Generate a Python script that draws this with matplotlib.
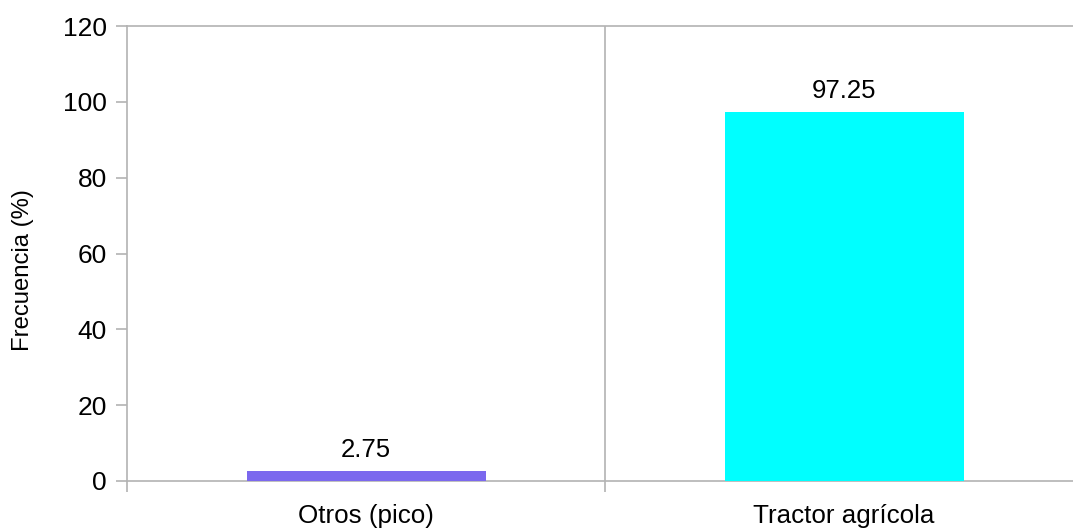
import matplotlib
matplotlib.use("Agg")
import matplotlib.pyplot as plt

# Data
categories = ["Otros (pico)", "Tractor agrícola"]
values = [2.75, 97.25]
bar_colors = ["#7b68ee", "#00ffff"]
y_ticks = [0, 20, 40, 60, 80, 100, 120]

plt.rcParams["font.family"] = ["Liberation Sans", "DejaVu Sans"]
grid_c = "#b3b3b3"

W, H = 1073, 528
fig = plt.figure(figsize=(W / 100, H / 100), dpi=100)
left, right, top, bottom = 127, 1083, 26, 481
ax = fig.add_axes([left / W, 1 - bottom / H, (right - left) / W, (bottom - top) / H])

x = list(range(len(categories)))
ax.bar(x, values, width=0.5, color=bar_colors, zorder=3)

for xi, v in zip(x, values):
    ax.annotate(f"{v:.2f}", (xi, v), xytext=(0, 10), textcoords="offset points",
                ha="center", va="baseline", fontsize=18.5, color="black")

ax.set_xlim(-0.5, len(categories) - 0.5)
ax.set_ylim(0, 120)

# category separators
for b in [i + 0.5 for i in range(len(categories) - 1)]:
    ax.axvline(b, color=grid_c, lw=1.2, zorder=1)

ax.set_xticks(x)
ax.set_xticklabels(categories, fontsize=18.7)
ax.set_xticks([i - 0.5 for i in range(len(categories) + 1)], minor=True)
ax.tick_params(axis="x", which="major", length=0, pad=16.5)
ax.tick_params(axis="x", which="minor", length=8, width=1.2, color=grid_c)

ax.set_yticks(y_ticks)
ax.tick_params(axis="y", labelsize=19, length=8, width=1.2, color=grid_c, pad=6.5)

for s in ["left", "bottom", "top", "right"]:
    ax.spines[s].set_color(grid_c)
    ax.spines[s].set_linewidth(1.2)

ax.set_ylabel("Frecuencia (%)", fontsize=17.2)
ax.yaxis.set_label_coords(-104 / (right - left), 0.4637)
ax.yaxis.label.set_va("center")

fig.savefig("out.png", dpi=100)
